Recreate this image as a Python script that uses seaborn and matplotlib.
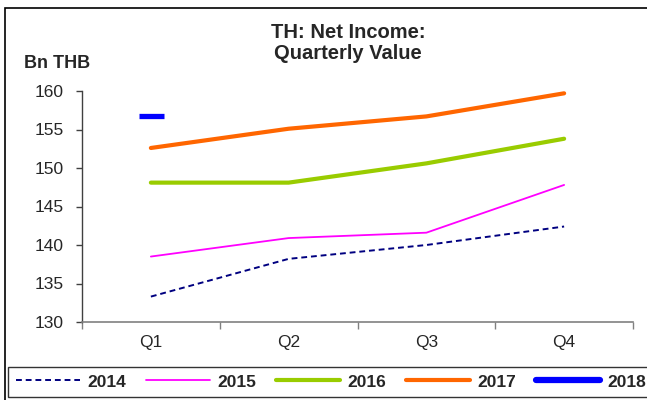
import matplotlib
matplotlib.use("Agg")
import matplotlib.pyplot as plt
import seaborn as sns
import pandas as pd
from matplotlib.lines import Line2D
from matplotlib.patches import Rectangle

quarters = ["Q1", "Q2", "Q3", "Q4"]
v2014 = [133.3, 138.2, 140.0, 142.4]
v2015 = [138.5, 140.9, 141.6, 147.8]
v2016 = [148.1, 148.1, 150.6, 153.8]
v2017 = [152.6, 155.1, 156.7, 159.7]
v2018 = [156.8]
yticks = [130, 135, 140, 145, 150, 155, 160]

sns.set_theme(style="white")
plt.rcParams['font.family'] = ['Liberation Sans', 'DejaVu Sans']

fig = plt.figure(figsize=(6.47, 4.0), dpi=100)
ax = fig.add_axes([82/647, 78/400, (633-82)/647, (322-91)/400])

styles = {
    "2014": dict(vals=v2014, color="#000080", lw=1.4, ls=(0, (3, 2))),
    "2015": dict(vals=v2015, color="#FF00FF", lw=1.3, ls="-"),
    "2016": dict(vals=v2016, color="#99CC00", lw=3.0, ls="-"),
    "2017": dict(vals=v2017, color="#FF6600", lw=3.0, ls="-"),
}
for yr, s in styles.items():
    df = pd.DataFrame({"q": quarters[:len(s["vals"])], "v": s["vals"]})
    sns.lineplot(data=df, x="q", y="v", ax=ax, color=s["color"], linewidth=s["lw"],
                 linestyle=s["ls"], solid_capstyle="round", dash_capstyle="butt")

df18 = pd.DataFrame({"q": quarters[:len(v2018)], "v": v2018})
sns.lineplot(data=df18, x="q", y="v", ax=ax, color="#0000FF", marker="_",
             markersize=18, markeredgewidth=3.8, markeredgecolor="#0000FF", linewidth=0)

ax.set_xlim(-0.5, 3.5)
ax.set_ylim(130, 160)
ax.set_yticks(yticks)
ax.set_yticklabels([str(t) for t in yticks], fontsize=12.5)
ax.set_xticks(range(4))
ax.set_xticklabels(quarters, fontsize=12.5)
ax.set_xticks([-0.5, 0.5, 1.5, 2.5, 3.5], minor=True)
ax.tick_params(axis="x", which="major", length=0, pad=9)
ax.tick_params(axis="x", which="minor", length=5, width=1, color="#808080", direction="out", bottom=True)
ax.tick_params(axis="y", length=4, width=1, color="#404040", direction="out", left=True, pad=9)
ax.set_xlabel("")
ax.set_ylabel("")
for sp in ["top", "right"]:
    ax.spines[sp].set_visible(False)
ax.spines["left"].set_color("#404040")
ax.spines["bottom"].set_color("#808080")
ax.spines["left"].set_linewidth(1)
ax.spines["bottom"].set_linewidth(1.2)
ax.grid(False)

fig.text(348/647, 1 - 43/400, "TH: Net Income:\nQuarterly Value", ha="center", va="center",
         fontsize=14.5, fontweight="bold", linespacing=1.1)
fig.text(24/647, 1 - 64/400, "Bn THB", ha="left", va="center", fontsize=13, fontweight="bold")

# outer frame
fig.patches.append(Rectangle((5/647, -0.1), 1.2, 1 - 8/400 + 0.1, transform=fig.transFigure,
                             fill=False, edgecolor="black", linewidth=1.2))

handles = [
    Line2D([], [], color="#000080", lw=1.4, ls=(0, (3, 2))),
    Line2D([], [], color="#FF00FF", lw=1.3),
    Line2D([], [], color="#99CC00", lw=3.0, solid_capstyle="round"),
    Line2D([], [], color="#FF6600", lw=3.0, solid_capstyle="round"),
    Line2D([], [], color="#0000FF", lw=4.5, solid_capstyle="round"),
]
labels = ["2014", "2015", "2016", "2017", "2018"]
leg = fig.legend(handles, labels, ncol=5, loc="center", bbox_to_anchor=(331/647, 1 - 382/400),
                 frameon=True, fancybox=False, edgecolor="black", handlelength=3.7,
                 handletextpad=0.4, columnspacing=1.15, borderpad=0.45, borderaxespad=0,
                 prop={"weight": "bold", "size": 12.5})
leg.get_frame().set_linewidth(1)

fig.savefig("out.png", dpi=100)
